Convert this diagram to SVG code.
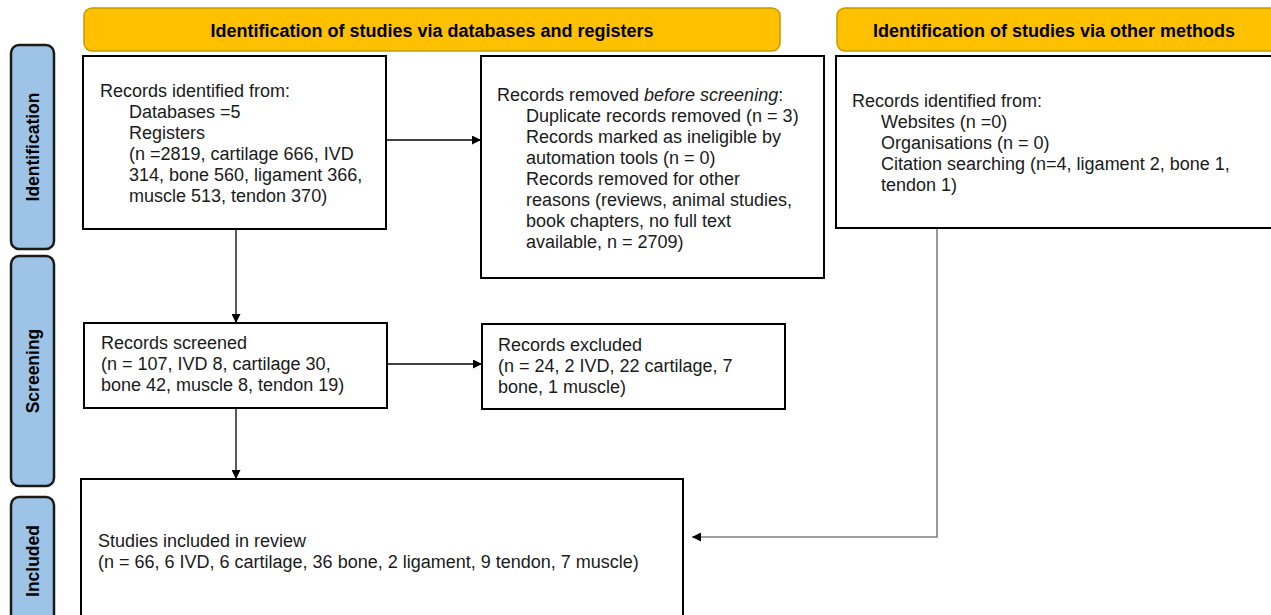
<svg xmlns="http://www.w3.org/2000/svg" width="1271" height="615" viewBox="0 0 1271 615">
<style>
.hdr{fill:#FFC000;stroke:#C49A00;stroke-width:1.5}
.side{fill:#9DC3E6;stroke:#1a1a1a;stroke-width:2.5}
.box{fill:#fff;stroke:#000;stroke-width:2}
.ht{font-family:"Liberation Sans",Arial,sans-serif;font-weight:bold;font-size:18px;fill:#000;text-anchor:middle}
.st{font-family:"Liberation Sans",Arial,sans-serif;font-weight:bold;font-size:17.5px;fill:#000;text-anchor:middle}
.t{font-family:"Liberation Sans",Arial,sans-serif;font-size:18px;fill:#1a1a1a}
.c{fill:none;stroke:#000;stroke-width:1.3}
.cg{fill:none;stroke:#808080;stroke-width:1.6}
</style>
<defs>
<marker id="ah" viewBox="0 0 10 10" refX="10" refY="5" markerWidth="10" markerHeight="9" markerUnits="userSpaceOnUse" orient="auto">
<path d="M0,0 L10,5 L0,10 Z" fill="#000"/>
</marker>
</defs>
<rect width="1271" height="615" fill="#fff"/>
<g id="header-db">
<rect class="hdr" x="84" y="8" width="696" height="43" rx="8"/>
<text class="ht" x="432" y="37">Identification of studies via databases and registers</text>
</g>
<g id="header-other">
<rect class="hdr" x="837" y="8" width="445" height="43" rx="8"/>
<text class="ht" x="1054" y="37">Identification of studies via other methods</text>
</g>
<g id="side-identification">
<rect class="side" x="11" y="45" width="43" height="204" rx="8"/>
<text class="st" transform="translate(39,147) rotate(-90)">Identification</text>
</g>
<g id="side-screening">
<rect class="side" x="11" y="256" width="43" height="230" rx="8"/>
<text class="st" transform="translate(39,371) rotate(-90)">Screening</text>
</g>
<g id="side-included">
<rect class="side" x="11" y="497" width="43" height="130" rx="8"/>
<text class="st" transform="translate(39,561) rotate(-90)">Included</text>
</g>
<g id="connectors">
<path class="c" d="M236,229 V323" marker-end="url(#ah)"/>
<path class="c" d="M386,140 H481" marker-end="url(#ah)"/>
<path class="c" d="M387,364 H482" marker-end="url(#ah)"/>
<path class="c" d="M236,408 V479" marker-end="url(#ah)"/>
<path class="cg" d="M937,228 V537 H692" marker-end="url(#ah)"/>
</g>
<g id="records-identified">
<rect class="box" x="83" y="56" width="303" height="173"/>
<text class="t" x="100" y="97">Records identified from:</text>
<text class="t" x="129" y="118">Databases =5</text>
<text class="t" x="129" y="139">Registers</text>
<text class="t" x="129" y="160">(n =2819, cartilage 666, IVD</text>
<text class="t" x="129" y="181">314, bone 560, ligament 366,</text>
<text class="t" x="129" y="202">muscle 513, tendon 370)</text>
</g>
<g id="records-removed">
<rect class="box" x="481" y="56" width="343" height="222"/>
<text class="t" x="497" y="101">Records removed <tspan font-style="italic">before screening</tspan>:</text>
<text class="t" x="526" y="122">Duplicate records removed (n = 3)</text>
<text class="t" x="526" y="143">Records marked as ineligible by</text>
<text class="t" x="526" y="164">automation tools (n = 0)</text>
<text class="t" x="526" y="185">Records removed for other</text>
<text class="t" x="526" y="206">reasons (reviews, animal studies,</text>
<text class="t" x="526" y="227">book chapters, no full text</text>
<text class="t" x="526" y="248">available, n = 2709)</text>
</g>
<g id="records-other">
<rect class="box" x="836" y="56" width="446" height="172"/>
<text class="t" x="852" y="107">Records identified from:</text>
<text class="t" x="881" y="128">Websites (n =0)</text>
<text class="t" x="881" y="149">Organisations (n = 0)</text>
<text class="t" x="881" y="170">Citation searching (n=4, ligament 2, bone 1,</text>
<text class="t" x="881" y="191">tendon 1)</text>
</g>
<g id="records-screened">
<rect class="box" x="84" y="323" width="303" height="85"/>
<text class="t" x="101" y="349">Records screened</text>
<text class="t" x="101" y="370">(n = 107, IVD 8, cartilage 30,</text>
<text class="t" x="101" y="391">bone 42, muscle 8, tendon 19)</text>
</g>
<g id="records-excluded">
<rect class="box" x="482" y="324" width="303" height="85"/>
<text class="t" x="498" y="351">Records excluded</text>
<text class="t" x="498" y="372">(n = 24, 2 IVD, 22 cartilage, 7</text>
<text class="t" x="498" y="393">bone, 1 muscle)</text>
</g>
<g id="studies-included">
<rect class="box" x="81" y="479" width="602" height="150"/>
<text class="t" x="98" y="547">Studies included in review</text>
<text class="t" x="98" y="568">(n = 66, 6 IVD, 6 cartilage, 36 bone, 2 ligament, 9 tendon, 7 muscle)</text>
</g>
</svg>
